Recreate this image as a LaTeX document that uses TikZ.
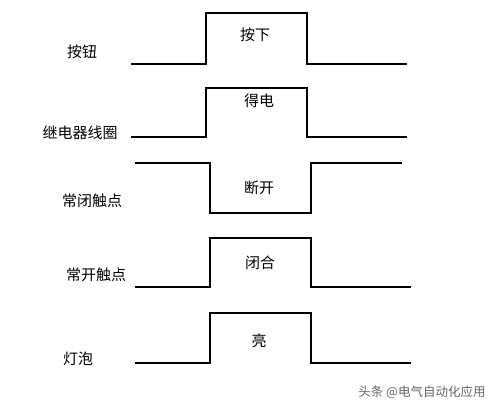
\documentclass[tikz,border=0pt]{standalone}
\usepackage{fontspec}
\newfontfamily\cjk{Noto Sans CJK SC}

\begin{document}
\begin{tikzpicture}[x=1pt,y=-1pt,
    wave/.style={line width=1.6pt,line join=miter},
    sig label/.style={font=\cjk\fontsize{15}{15}\selectfont},
    state label/.style={font=\cjk\fontsize{15}{15}\selectfont},
    water label/.style={font=\cjk\fontsize{12.5}{12.5}\selectfont,text=black!60}]
    \useasboundingbox (0,0) rectangle (498,409);

    % signal names
    \node[sig label] (btn) at (82,52) {按钮};
    \node[sig label] (coil) at (80,133) {继电器线圈};
    \node[sig label] (nc) at (92,201) {常闭触点};
    \node[sig label] (no) at (96,275) {常开触点};
    \node[sig label] (lamp) at (78,359) {灯泡};

    % waveforms
    \draw[wave] (131,64) -- (206,64) -- (206,13) -- (307,13) -- (307,64) -- (407,64);
    \draw[wave] (131,137) -- (206,137) -- (206,88) -- (307,88) -- (307,137) -- (407,137);
    \draw[wave] (135,163) -- (210,163) -- (210,213) -- (311,213) -- (311,163) -- (402,163);
    \draw[wave] (135,287) -- (210,287) -- (210,238) -- (311,238) -- (311,287) -- (411,287);
    \draw[wave] (135,363) -- (210,363) -- (210,313) -- (311,313) -- (311,363) -- (411,363);

    % states
    \node[state label] (press) at (255,35) {按下};
    \node[state label] (power) at (259,101) {得电};
    \node[state label] (open) at (259,188) {断开};
    \node[state label] (close) at (260,263) {闭合};
    \node[state label] (lit) at (259,341) {亮};

    \node[water label] (mark) at (422,392) {头条 @电气自动化应用};
\end{tikzpicture}
\end{document}
